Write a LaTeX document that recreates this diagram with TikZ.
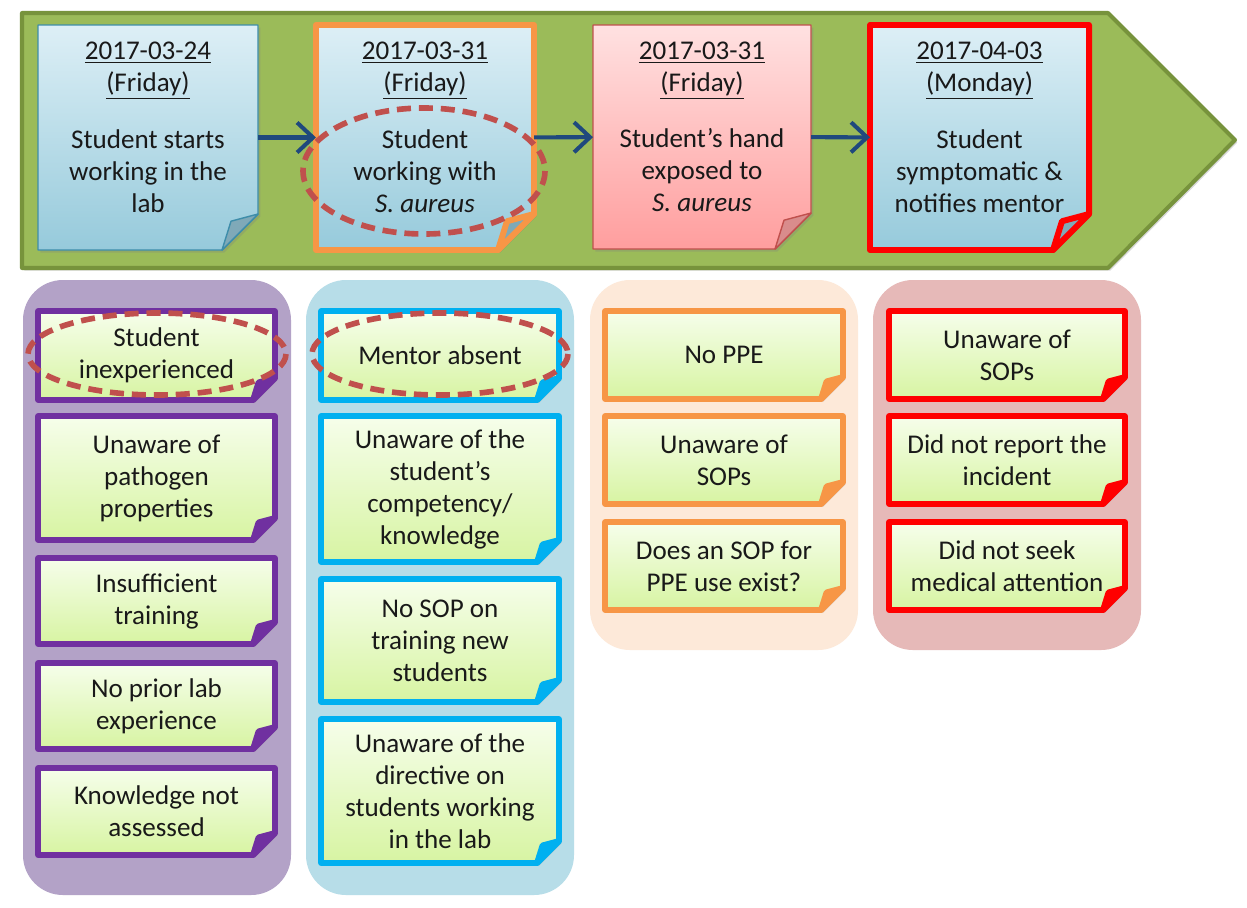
\documentclass[tikz,border=0pt]{standalone}
\usepackage{fontspec}
\setmainfont{Carlito}
\usetikzlibrary{arrows.meta,shadows}

\definecolor{bannergreen}{HTML}{9BBB59}
\definecolor{bannerdark}{HTML}{77933C}
\definecolor{skytop}{HTML}{DDEFF6}
\definecolor{skybot}{HTML}{96CADB}
\definecolor{foldblue}{HTML}{7FA9B8}
\definecolor{tealline}{HTML}{3E8DAA}
\definecolor{rosetop}{HTML}{FFE1E1}
\definecolor{rosebot}{HTML}{FF9E9E}
\definecolor{roseline}{HTML}{C0504D}
\definecolor{foldrose}{HTML}{D98C8C}
\definecolor{dayorange}{HTML}{F79646}
\definecolor{dayred}{HTML}{FF0000}
\definecolor{arrowblue}{HTML}{1F497D}
\definecolor{ringred}{HTML}{C0504D}
\definecolor{panelpurple}{HTML}{B3A2C7}
\definecolor{panelblue}{HTML}{B7DDE8}
\definecolor{panelpeach}{HTML}{FDE9D9}
\definecolor{panelrose}{HTML}{E6B9B8}
\definecolor{causepurple}{HTML}{7030A0}
\definecolor{causeblue}{HTML}{00B0F0}
\definecolor{causeorange}{HTML}{F79646}
\definecolor{causered}{HTML}{FF0000}
\definecolor{limetop}{HTML}{F6FEEB}
\definecolor{limebot}{HTML}{D7F4A2}

% note card with folded corner: [card style][fold style](name)(x1,y1)(x2,y2){text}
\def\notecard[#1][#2](#3)(#4,#5)(#6,#7)#8{%
  \path[#1] (#4,#5) -- (#6,#5) -- (#6,#7-\foldsize) -- (#6-\foldsize,#7) -- (#4,#7) -- cycle;
  \path[#2] (#6,#7-\foldsize) -- (#6-0.75*\foldsize,#7-0.8*\foldsize) -- (#6-\foldsize,#7) -- cycle;
  \node[cardbox, minimum width={(#6-#4)*0.02cm}, minimum height={(#7-#5)*0.02cm}] (#3) at ({(#4+#6)/2},{(#5+#7)/2}) {};
  \node[cardtext] (#3-txt) at ([yshift=\textlift]#3.center) {#8};
}

\begin{document}
\begin{tikzpicture}[x=0.02cm, y=-0.02cm, line join=round,
    banner/.style={fill=bannergreen, draw=bannerdark, line width=2.3pt},
    panel/.style={fill=#1, rounded corners=0.8cm},
    cardshadow/.style={drop shadow={shadow xshift=1.3pt, shadow yshift=-1.5pt, opacity=0.3}},
    skycard/.style={top color=skytop, bottom color=skybot, draw=#1, cardshadow},
    rosecard/.style={top color=rosetop, bottom color=rosebot, draw=#1, cardshadow},
    skyfold/.style={fill=foldblue, draw=#1},
    rosefold/.style={fill=foldrose, draw=#1},
    limecard/.style={top color=limetop, bottom color=limebot, draw=#1, line width=3.3pt, cardshadow},
    limefold/.style={fill=#1, draw=#1, line width=3.3pt},
    cardbox/.style={inner sep=0pt, outer sep=0pt},
    cardtext/.style={align=center, inner sep=0pt, text=black!90, font=\fontsize{15.4}{18.2}\selectfont},
    timeline/.style={-{Straight Barb[length=3.2mm, width=6mm]}, line width=2.3pt, draw=arrowblue},
    redring/.style={draw=ringred, line width=3.2pt, dash pattern=on 8pt off 4.5pt}]

  \fill[white] (0,0) rectangle (1247,907);
  \useasboundingbox (0,0) rectangle (1247,907);

  %%%%% TIMELINE %%%%%
  \draw[banner, cardshadow] (22,13) -- (1108,13) -- (1235,140) -- (1108,268) -- (22,268) -- cycle;

  \def\foldsize{36}\def\textlift{2mm}
  \notecard[skycard=tealline, line width=0.8pt][skyfold=tealline, line width=0.8pt](day1)(38,25)(258,250)
    {\underline{2017-03-24}\\\underline{(Friday)}\\[14pt]Student starts\\working in the\\lab}
  \notecard[skycard=dayorange, line width=3.4pt][skyfold=dayorange, line width=3.4pt](day2)(316,25)(534,250)
    {\underline{2017-03-31}\\\underline{(Friday)}\\[14pt]Student\\working with\\\textit{S. aureus}}
  \notecard[rosecard=roseline, line width=0.8pt][rosefold=roseline, line width=0.8pt](day3)(593,25)(811,249)
    {\underline{2017-03-31}\\\underline{(Friday)}\\[14pt]Student’s hand\\exposed to\\\textit{S. aureus}}
  \notecard[skycard=dayred, line width=3.4pt][skyfold=dayred, line width=3.4pt](day4)(870,25)(1089,250)
    {\underline{2017-04-03}\\\underline{(Monday)}\\[14pt]Student\\symptomatic \&\\notifies mentor}

  \draw[timeline] (day1) -- (day2);
  \draw[timeline] (day2) -- (day3);
  \draw[timeline] (day3) -- (day4);

  \draw[redring] (424,171) ellipse (121 and 63);

  %%%%% CAUSES %%%%%
  \fill[panel=panelpurple] (23,280) rectangle (291,895);
  \fill[panel=panelblue] (306,280) rectangle (574,895);
  \fill[panel=panelpeach] (590,280) rectangle (858,650);
  \fill[panel=panelrose] (873,280) rectangle (1141,650);

  \def\foldsize{22}\def\textlift{0mm}
  \notecard[limecard=causepurple][limefold=causepurple](stud1)(38,311)(275,400){Student\\inexperienced}
  \notecard[limecard=causepurple][limefold=causepurple](stud2)(38,416)(275,540){Unaware of\\pathogen\\properties}
  \notecard[limecard=causepurple][limefold=causepurple](stud3)(38,558)(275,644){Insufficient\\training}
  \notecard[limecard=causepurple][limefold=causepurple](stud4)(38,663)(275,749){No prior lab\\experience}
  \notecard[limecard=causepurple][limefold=causepurple](stud5)(38,768)(275,855){Knowledge not\\assessed}

  \notecard[limecard=causeblue][limefold=causeblue](ment1)(321,311)(559,400){Mentor absent}
  \notecard[limecard=causeblue][limefold=causeblue](ment2)(321,416)(559,562){Unaware of the\\student’s\\competency/\\knowledge}
  \notecard[limecard=causeblue][limefold=causeblue](ment3)(321,579)(559,702){No SOP on\\training new\\students}
  \notecard[limecard=causeblue][limefold=causeblue](ment4)(321,719)(559,863){Unaware of the\\directive on\\students working\\in the lab}

  \notecard[limecard=causeorange][limefold=causeorange](ppe1)(605,311)(843,399){No PPE}
  \notecard[limecard=causeorange][limefold=causeorange](ppe2)(605,416)(843,504){Unaware of\\SOPs}
  \notecard[limecard=causeorange][limefold=causeorange](ppe3)(605,522)(843,610){Does an SOP for\\PPE use exist?}

  \notecard[limecard=causered][limefold=causered](inc1)(889,311)(1125,399){Unaware of\\SOPs}
  \notecard[limecard=causered][limefold=causered](inc2)(889,416)(1125,504){Did not report the\\incident}
  \notecard[limecard=causered][limefold=causered](inc3)(889,522)(1125,610){Did not seek\\medical attention}

  \draw[redring] (157,354) ellipse (129 and 41);
  \draw[redring] (440,354) ellipse (128 and 41);
\end{tikzpicture}
\end{document}
